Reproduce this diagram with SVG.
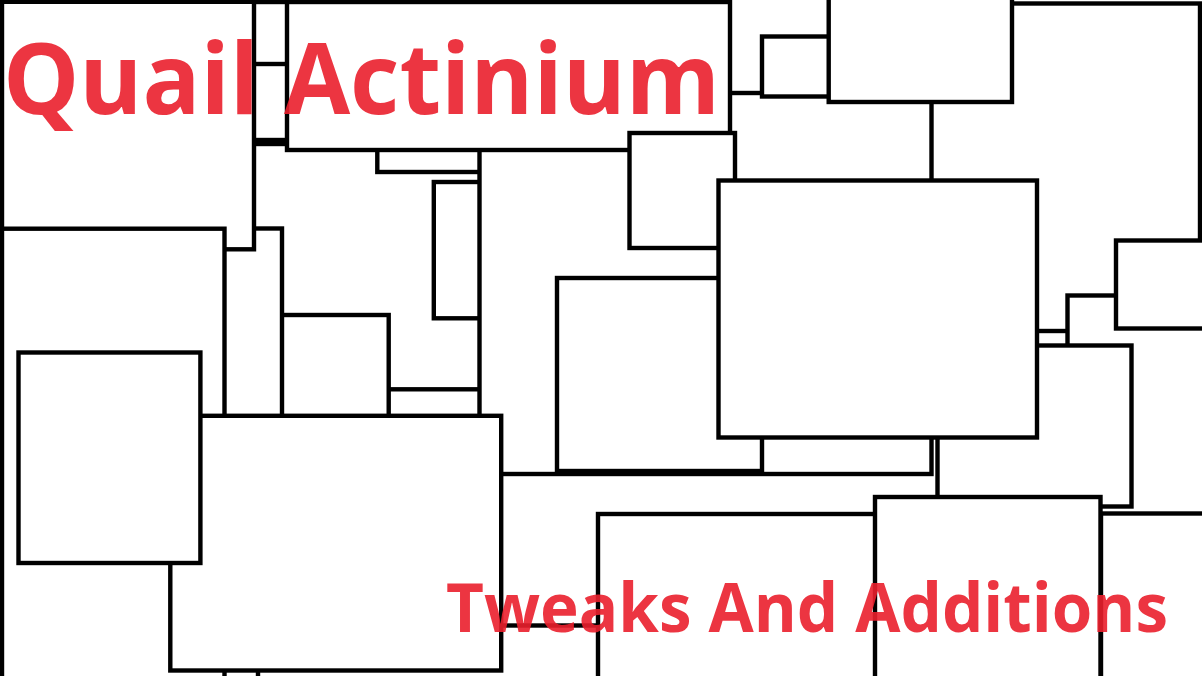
<svg xmlns="http://www.w3.org/2000/svg" width="1202" height="676" viewBox="0 0 1202 676">
<style>
.b{fill:#ffffff;stroke:#000000;stroke-width:4.4}
.t{font-family:"Open Sans","Noto Sans","Liberation Sans",sans-serif;font-weight:700;fill:#ea1f2c;fill-opacity:0.9}
</style>
<rect x="0" y="0" width="1202" height="676" fill="#ffffff"/>
<g id="boxes">
<rect id="r01" class="b" x="150" y="144" width="450" height="296"/>
<rect id="r02" class="b" x="150" y="30" width="250" height="110"/>
<rect id="r03" class="b" x="150" y="2" width="250" height="62"/>
<rect id="r04" class="b" x="377.3" y="100" width="143" height="72"/>
<rect id="r05" class="b" x="433.8" y="182" width="86" height="136.3"/>
<rect id="r06" class="b" x="330" y="389.3" width="160" height="131"/>
<rect id="r07" class="b" x="260" y="315" width="128.7" height="185"/>
<rect id="r08" class="b" x="190" y="228.5" width="92" height="331.5"/>
<rect id="r09" class="b" x="2" y="1.8" width="252" height="247.5"/>
<rect id="r10" class="b" x="2" y="228.7" width="222.5" height="500"/>
<rect id="r11" class="b" x="900" y="3.5" width="300" height="327.5"/>
<rect id="r12" class="b" x="479.5" y="93" width="452" height="381"/>
<rect id="r13" class="b" x="287" y="2" width="443" height="148"/>
<rect id="r14" class="b" x="762" y="36.5" width="88" height="60"/>
<rect id="r15" class="b" x="828.7" y="-20" width="183.3" height="122"/>
<rect id="r16" class="b" x="629.5" y="133" width="105.5" height="115"/>
<rect id="r17" class="b" x="557" y="278" width="205" height="193"/>
<rect id="r18" class="b" x="1067.5" y="295.5" width="182.5" height="304.5"/>
<rect id="r19" class="b" x="937.5" y="345.5" width="194" height="161"/>
<rect id="r20" class="b" x="718.5" y="180.5" width="318.5" height="257"/>
<rect id="r21" class="b" x="1116" y="240.5" width="134" height="88"/>
<rect id="r22" class="b" x="258" y="625.5" width="442" height="134.5"/>
<rect id="r23" class="b" x="170.3" y="415.8" width="330.9" height="254.7"/>
<rect id="r24" class="b" x="18.5" y="352.5" width="181.9" height="210.5"/>
<rect id="r25" class="b" x="598" y="514" width="302" height="246"/>
<rect id="r26" class="b" x="1101" y="513.5" width="149" height="246.5"/>
<rect id="r27" class="b" x="875" y="497" width="225.5" height="263"/>
</g>
<g id="connectors"></g>
<g id="titles">
<text id="title" class="t" x="3" y="114" font-size="99" textLength="717" lengthAdjust="spacingAndGlyphs">Quail Actinium</text>
<text id="subtitle" class="t" x="446" y="632" font-size="68" textLength="722" lengthAdjust="spacingAndGlyphs">Tweaks And Additions</text>
</g>
</svg>
